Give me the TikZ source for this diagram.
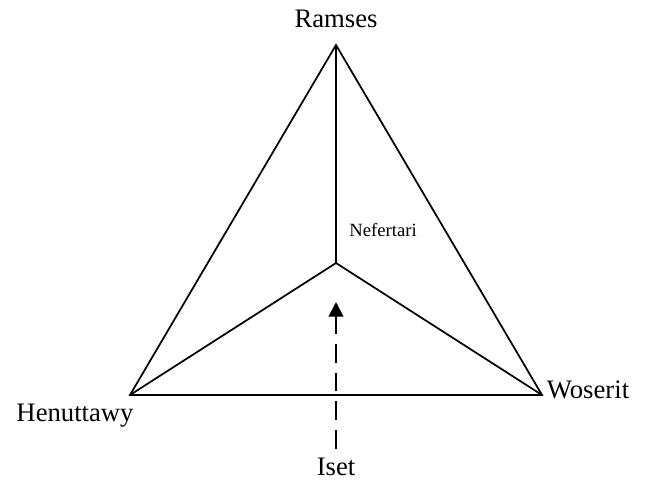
\documentclass[tikz,border=0pt]{standalone}
\usepackage{fontspec}
\setmainfont{Liberation Serif}
\usetikzlibrary{arrows.meta}

\begin{document}
\begin{tikzpicture}[
  x=0.75pt,y=-0.75pt,
  person/.style={inner sep=0pt,font=\fontsize{20}{24}\selectfont},
  small person/.style={inner sep=0pt,font=\fontsize{14}{17}\selectfont},
  edge/.style={line width=1.3pt,line join=miter},
  push/.style={-{Triangle[length=11pt,width=11pt]},line width=1.7pt,dash pattern=on 14pt off 7.5pt}
]
  \useasboundingbox (0,0) rectangle (652,485);

  % corners and centre
  \coordinate (ramses-pt) at (336,45);
  \coordinate (henuttawy-pt) at (130,395);
  \coordinate (woserit-pt) at (542,395);
  \coordinate (nefertari-pt) at (336,263);
  \coordinate (tip) at (336,302);

  \node[person] (ramses) at (336,19) {Ramses};
  \node[person] (henuttawy) at (75,416) {Henuttawy};
  \node[person] (woserit) at (588,390) {Woserit};
  \node[person] (iset) at (336,467) {Iset};
  \node[small person] (nefertari) at (383,230) {Nefertari};

  \draw[edge] (ramses-pt) -- (henuttawy-pt) -- (woserit-pt) -- cycle;
  \draw[edge] (nefertari-pt) -- (ramses-pt);
  \draw[edge] (nefertari-pt) -- (henuttawy-pt);
  \draw[edge] (nefertari-pt) -- (woserit-pt);

  \draw[push] ([yshift=7pt]iset.north) -- (tip);
\end{tikzpicture}
\end{document}
